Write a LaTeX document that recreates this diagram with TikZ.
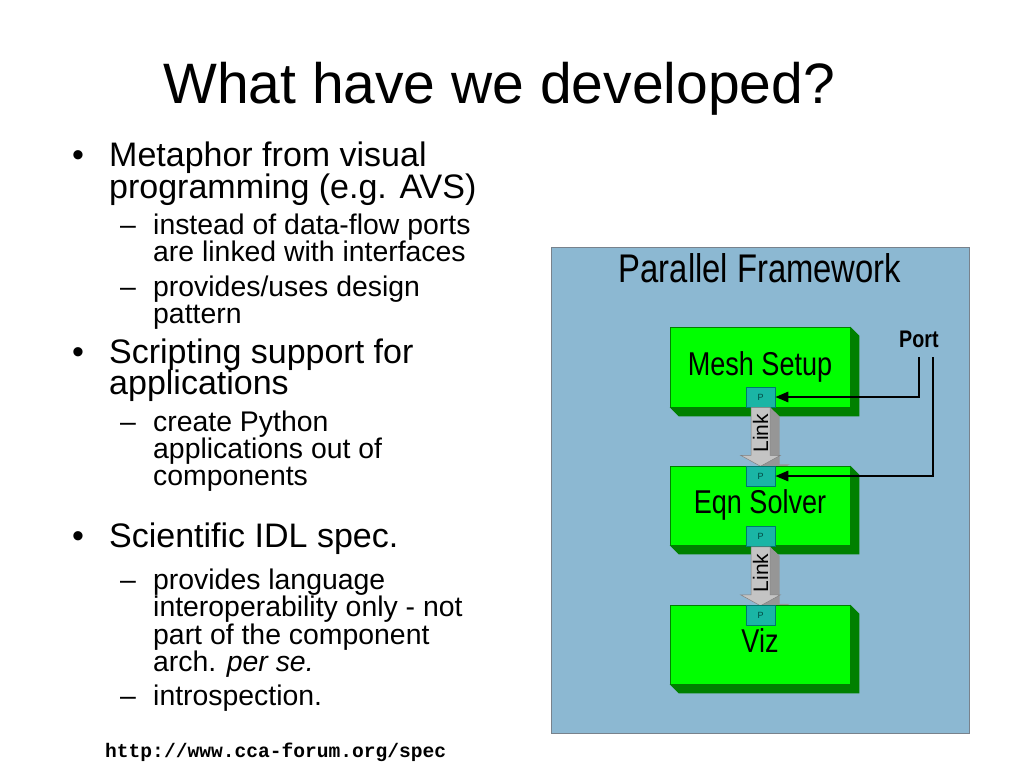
\documentclass[tikz,border=0pt]{standalone}
\usepackage{fontspec}
\setmainfont{Liberation Sans}
\setmonofont{Liberation Mono}
\newfontfamily\narrowfont{Liberation Sans}[FakeStretch=0.82]
\usetikzlibrary{arrows.meta}
\definecolor{panelblue}{RGB}{140,184,210}
\definecolor{panelline}{RGB}{120,130,140}
\definecolor{boxgreen}{RGB}{0,255,0}
\definecolor{boxdark}{RGB}{0,128,0}
\definecolor{portteal}{RGB}{26,181,165}
\definecolor{portline}{RGB}{0,120,110}
\definecolor{linkgray}{RGB}{196,196,196}
\definecolor{linkshadow}{RGB}{150,150,150}
\tikzset{
  txt/.style={anchor=base west, inner sep=0pt, font=\fontsize{34}{34}\selectfont},
  subtxt/.style={anchor=base west, inner sep=0pt, font=\fontsize{28.4}{28.4}\selectfont},
  comp/.style={draw=boxdark, line width=0.6pt, fill=boxgreen, minimum width=180pt,
    minimum height=80pt, inner sep=0pt, text height=22pt, text depth=6pt,
    font=\narrowfont\fontsize{33}{33}\selectfont},
  depthface/.style={fill=boxdark},
  port/.style={draw=portline, line width=0.5pt, fill=portteal, minimum width=29pt,
    minimum height=20pt, inner sep=0pt, text=portline!60!black, font=\fontsize{9}{9}\selectfont},
  portwire/.style={line width=2.6pt, -{Triangle[length=13pt,width=10pt]}},
  linkarr/.pic={
    \fill[linkshadow] (9.5,0) -- (19,9) -- (19,57) -- (29.5,57) -- (9.5,68) -- (0,59) -- cycle;
    \draw[fill=linkgray, draw=gray, line width=0.5pt]
      (-9.5,0) -- (9.5,0) -- (9.5,48) -- (20,48) -- (0,59) -- (-20,48) -- (-9.5,48) -- cycle;
    \node[rotate=90, inner sep=0pt, font=\fontsize{21}{21}\selectfont] (-label) at (0,26) {Link};
  }
}
\begin{document}
\begin{tikzpicture}[x=1pt,y=-1pt]
\useasboundingbox (0,0) rectangle (1024,768);
\fill[white] (0,0) rectangle (1024,768);

% title
\node[anchor=base west, inner sep=0pt, font=\fontsize{57}{57}\selectfont] (title) at (163,103) {What have we developed?};

% bullets
\node[txt] (b1) at (72,166) {•};
\node[txt] (t1a) at (109,166) {Metaphor from visual};
\node[txt] (t1b) at (109,198) {programming (e.g. AVS)};
\node[subtxt] (d1) at (120,234) {–};
\node[subtxt] (s1a) at (153,234) {instead of data-flow ports};
\node[subtxt] (s1b) at (153,261) {are linked with interfaces};
\node[subtxt] (d2) at (120,296) {–};
\node[subtxt] (s2a) at (153,296) {provides/uses design};
\node[subtxt] (s2b) at (153,323) {pattern};
\node[txt] (b2) at (72,363) {•};
\node[txt] (t2a) at (109,363) {Scripting support for};
\node[txt] (t2b) at (109,394) {applications};
\node[subtxt] (d3) at (120,431) {–};
\node[subtxt] (s3a) at (153,431) {create Python};
\node[subtxt] (s3b) at (153,458) {applications out of};
\node[subtxt] (s3c) at (153,485) {components};
\node[txt] (b3) at (72,547) {•};
\node[txt] (t3a) at (109,547) {Scientific IDL spec.};
\node[subtxt] (d4) at (120,589) {–};
\node[subtxt] (s4a) at (153,589) {provides language};
\node[subtxt] (s4b) at (153,616) {interoperability only - not};
\node[subtxt] (s4c) at (153,644) {part of the component};
\node[subtxt] (s4d) at (153,671) {arch. \textit{per se.}};
\node[subtxt] (d5) at (120,705) {–};
\node[subtxt] (s5a) at (153,705) {introspection.};
\node[anchor=base west, inner sep=0pt, font=\ttfamily\bfseries\fontsize{19.6}{19.6}\selectfont] (url) at (105,757) {http://www.cca-forum.org/spec};

% panel
\draw[fill=panelblue, draw=panelline, line width=0.8pt] (551,247) rectangle (969,733);
\node[anchor=base, inner sep=0pt, font=\narrowfont\fontsize{40}{40}\selectfont] (fw) at (760,282) {Parallel Framework};

% Mesh Setup
\node[comp] (mesh) at (760,367) {Mesh Setup};
\fill[depthface] (mesh.north east) -- ([shift={(9,9)}]mesh.north east) -- ([shift={(9,9)}]mesh.south east)
  -- ([shift={(9,9)}]mesh.south west) -- (mesh.south west) -- (mesh.south east) -- cycle;
\node[port] (p1) at (760.5,397) {P};
\pic (lk1) at (p1.south) {linkarr};

% Eqn Solver
\node[comp, minimum height=79pt] (eqn) at (760,505.5) {Eqn Solver};
\fill[depthface] (eqn.north east) -- ([shift={(9,9)}]eqn.north east) -- ([shift={(9,9)}]eqn.south east)
  -- ([shift={(9,9)}]eqn.south west) -- (eqn.south west) -- (eqn.south east) -- cycle;
\node[port] (p2) at (760.5,476) {P};
\node[port] (p3) at (760.5,536.5) {P};
\pic (lk2) at (p3.south) {linkarr};

% Viz
\node[comp, minimum height=79pt] (viz) at (760,644.5) {Viz};
\fill[depthface] (viz.north east) -- ([shift={(9,9)}]viz.north east) -- ([shift={(9,9)}]viz.south east)
  -- ([shift={(9,9)}]viz.south west) -- (viz.south west) -- (viz.south east) -- cycle;
\node[port] (p4) at (760.5,615) {P};

% Port label and wires
\node[anchor=base west, inner sep=0pt, font=\narrowfont\bfseries\fontsize{24}{24}\selectfont] (portlbl) at (899,347) {Port};
\coordinate (w1) at (919,357);
\coordinate (w2) at (933,357);
\draw[portwire] (w1) |- (p1.east);
\draw[portwire] (w2) |- (p2.east);
\end{tikzpicture}
\end{document}
